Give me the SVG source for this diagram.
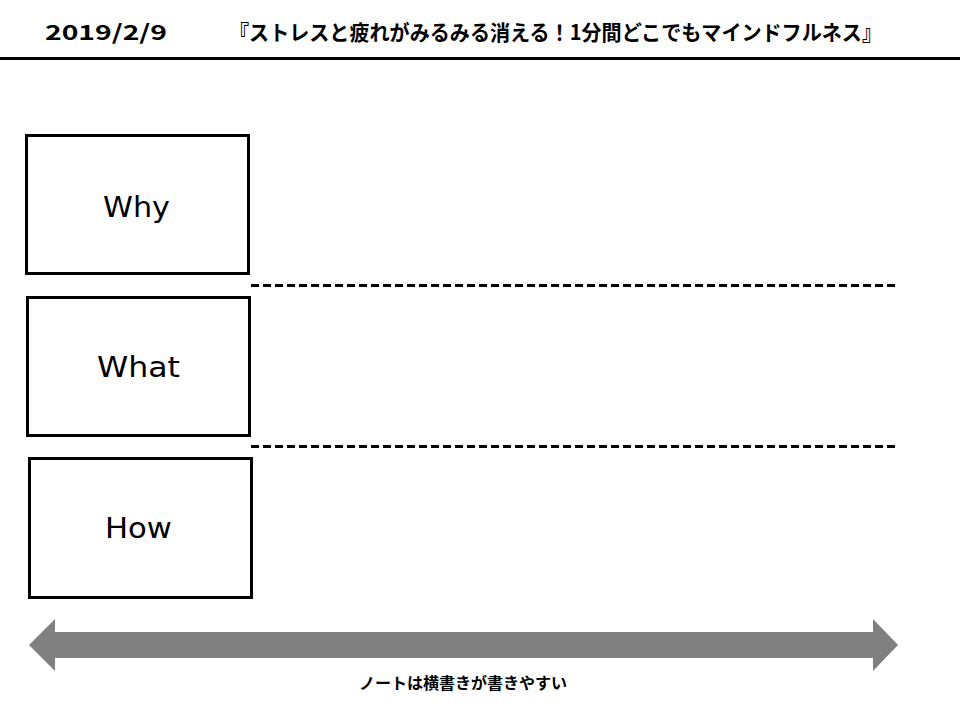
<svg xmlns="http://www.w3.org/2000/svg" width="962" height="713" viewBox="0 0 962 713">
<style>
.box{fill:#fff;stroke:#000;stroke-width:3}
.lbl{font-family:"DejaVu Sans","Open Sans",sans-serif;font-size:29px;fill:#000;text-anchor:middle}
.ttl{font-family:"Noto Sans CJK JP","Noto Sans",sans-serif;font-weight:bold;font-size:21px;fill:#000}
.dash{stroke:#000;stroke-width:3;stroke-dasharray:8 4;fill:none}
</style>
<rect width="962" height="713" fill="#fff"/>
<g id="header">
<text class="ttl" x="45" y="40" textLength="122" lengthAdjust="spacingAndGlyphs">2019/2/9</text>
<text class="ttl" x="229" y="40" textLength="653" lengthAdjust="spacingAndGlyphs">『ストレスと疲れがみるみる消える！1分間どこでもマインドフルネス』</text>
<line x1="0" y1="58.5" x2="960" y2="58.5" stroke="#000" stroke-width="3"/>
</g>
<g id="why">
<rect class="box" x="26.5" y="135.5" width="222" height="138"/>
<text class="lbl" x="136.5" y="217" textLength="67" lengthAdjust="spacingAndGlyphs">Why</text>
</g>
<g id="what">
<rect class="box" x="27.5" y="297.5" width="222" height="138"/>
<text class="lbl" x="138.5" y="377" textLength="83" lengthAdjust="spacingAndGlyphs">What</text>
</g>
<g id="how">
<rect class="box" x="29.5" y="458.5" width="222" height="139"/>
<text class="lbl" x="138.5" y="538" textLength="67" lengthAdjust="spacingAndGlyphs">How</text>
</g>
<g id="connectors">
<line class="dash" x1="251" y1="285.5" x2="897" y2="285.5"/>
<line class="dash" x1="251" y1="446.5" x2="897" y2="446.5"/>
</g>
<g id="arrow">
<polygon points="29,645 55,619 55,632 873,632 873,619 898,645 873,671 873,658 55,658 55,671" fill="#808080"/>
<text class="ttl" x="463" y="689" text-anchor="middle" style="font-size:16px">ノートは横書きが書きやすい</text>
</g>
</svg>
